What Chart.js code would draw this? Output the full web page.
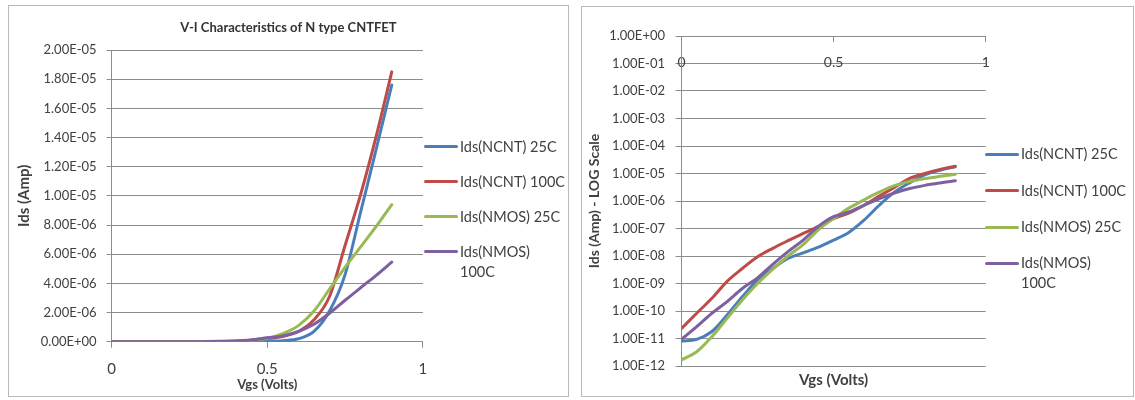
<!DOCTYPE html>
<html>
<head>
<meta charset="utf-8">
<script src="https://cdn.jsdelivr.net/npm/chart.js@4/dist/chart.umd.min.js"></script>
<style>
  html, body { margin: 0; padding: 0; background: #fff; }
  body { width: 1135px; height: 400px; position: relative; overflow: hidden; font-family: Lato, "Open Sans", sans-serif; }
  .frame { position: absolute; box-sizing: border-box; border: 1px solid #b9b9b9; background: #fff; }
  canvas { position: absolute; }
  .legend { position: absolute; color: #404040; font-size: 14.5px; line-height: 20px; }
  .legend .item { position: absolute; left: 0; display: flex; align-items: flex-start; white-space: nowrap; }
  .legend .swatch { width: 34px; height: 3px; margin-top: 8.5px; border-radius: 1.5px; }
  .legend .text { margin-left: 2px; }
</style>
</head>
<body>
<div class="frame" style="left:8px;top:5px;width:561px;height:392px"></div>
<div class="frame" style="left:581px;top:6px;width:553px;height:391px"></div>
<canvas id="linChart" width="561" height="392" style="left:8px;top:5px;width:561px;height:392px"></canvas>
<canvas id="logChart" width="553" height="391" style="left:581px;top:6px;width:553px;height:391px"></canvas>
<div id="linLegend" class="legend" style="left:424px;top:136.7px"></div>
<div id="logLegend" class="legend" style="left:985px;top:144.3px"></div>

<script>
// Gate voltage sweep (V)
const vgs = [0, 0.05, 0.1, 0.15, 0.2, 0.25, 0.3, 0.35, 0.4, 0.45, 0.5, 0.55, 0.6, 0.65, 0.7, 0.75, 0.8, 0.85, 0.9];

// Drain current (A) for each device / temperature
const idsNcnt25 = [8.1e-12, 9.3e-12, 1.8e-11, 7.1e-11, 3.3e-10, 1.35e-9, 3.5e-9, 8.1e-9, 1.3e-8, 2.1e-8, 3.8e-8, 7.2e-8, 2.0e-7, 7.0e-7, 2.1e-6, 4.6e-6, 8.9e-6, 1.32e-5, 1.76e-5];
const idsNcnt100 = [2.3e-11, 8.3e-11, 2.9e-10, 1.2e-9, 3.5e-9, 9.3e-9, 1.9e-8, 3.6e-8, 6.6e-8, 1.2e-7, 2.3e-7, 3.6e-7, 7.0e-7, 1.5e-6, 3.1e-6, 6.6e-6, 1.01e-5, 1.41e-5, 1.85e-5];
const idsNmos25 = [1.66e-12, 3.3e-12, 1.17e-11, 5.4e-11, 2.5e-10, 1.0e-9, 3.3e-9, 1.0e-8, 2.6e-8, 9.0e-8, 2.3e-7, 5.5e-7, 1.1e-6, 2.1e-6, 3.6e-6, 5.1e-6, 6.5e-6, 7.9e-6, 9.4e-6];
const idsNmos100 = [9.3e-12, 2.7e-11, 8.3e-11, 2.2e-10, 6.6e-10, 1.6e-9, 5.0e-9, 1.45e-8, 3.8e-8, 1.2e-7, 2.7e-7, 4.0e-7, 7.0e-7, 1.2e-6, 1.95e-6, 2.84e-6, 3.7e-6, 4.55e-6, 5.45e-6];

const seriesLabels = ['Ids(NCNT) 25C', 'Ids(NCNT) 100C', 'Ids(NMOS) 25C', 'Ids(NMOS) 100C'];
const seriesColors = ['#4A7EBB', '#BE4B48', '#98B954', '#7D60A0'];
const seriesValues = [idsNcnt25, idsNcnt100, idsNmos25, idsNmos100];

// Axis ticks
const vgsTicks = [0, 0.5, 1];
const linearCurrentTicks = [0, 2e-6, 4e-6, 6e-6, 8e-6, 1e-5, 1.2e-5, 1.4e-5, 1.6e-5, 1.8e-5, 2e-5];
const logCurrentTicks = [1, 1e-1, 1e-2, 1e-3, 1e-4, 1e-5, 1e-6, 1e-7, 1e-8, 1e-9, 1e-10, 1e-11, 1e-12];

const linTitle = 'V-I Characteristics of N type CNTFET';
const linYTitle = 'Ids (Amp)';
const logYTitle = 'Ids (Amp) - LOG Scale';
const xTitle = 'Vgs (Volts)';

Chart.defaults.font.family = 'Lato, "Open Sans", sans-serif';
Chart.defaults.color = '#404040';
const gridGray = '#8c8c8c';

// Spreadsheet-style scientific label, e.g. 1.80E-05
function sci(v) {
  if (v === 0) return '0.00E+00';
  let e = Math.floor(Math.log10(Math.abs(v)) + 1e-9);
  let m = v / Math.pow(10, e);
  if (Math.abs(m) >= 9.995) { m /= 10; e += 1; }
  return m.toFixed(2) + 'E' + (e < 0 ? '-' : '+') + String(Math.abs(e)).padStart(2, '0');
}

function makeDatasets() {
  return seriesValues.map((vals, i) => ({
    label: seriesLabels[i],
    data: vgs.map((v, k) => ({ x: v, y: vals[k] })),
    borderColor: seriesColors[i],
    backgroundColor: seriesColors[i],
    borderWidth: 3,
    borderCapStyle: 'round',
    borderJoinStyle: 'round',
    pointRadius: 0,
    cubicInterpolationMode: 'monotone',
    fill: false,
    order: seriesValues.length - 1 - i
  }));
}

const fixTicks = list => scale => { scale.ticks = list.map(v => ({ value: v })); };

// Empty right-hand strip that keeps room for the legend
const legendRoom = width => ({
  type: 'linear', position: 'right', min: 0, max: 1,
  afterFit: s => { s.width = width; },
  grid: { display: false }, border: { display: false }, ticks: { display: false }
});

// Linear-scale chart
const linChart = new Chart(document.getElementById('linChart'), {
  type: 'line',
  data: { datasets: makeDatasets() },
  options: {
    responsive: false,
    devicePixelRatio: 1,
    animation: false,
    layout: { padding: 0 },
    plugins: {
      legend: { display: false },
      tooltip: { enabled: false },
      title: {
        display: true,
        text: linTitle,
        color: '#333',
        font: { size: 13, weight: 'bold' },
        padding: { top: 15.2, bottom: 14.2 }
      }
    },
    scales: {
      x: {
        type: 'linear', position: 'bottom', min: 0, max: 1,
        afterBuildTicks: fixTicks(vgsTicks),
        afterFit: s => { s.height = 55.3; },
        grid: { drawOnChartArea: false, drawTicks: true, tickLength: 6, color: gridGray },
        border: { display: true, color: gridGray, width: 1 },
        ticks: { font: { size: 15 }, padding: 12.3, maxRotation: 0, callback: v => String(v) },
        title: { display: true, text: xTitle, font: { size: 13, weight: 'bold' }, padding: { top: 0, bottom: 4.2 } }
      },
      y: {
        type: 'linear', position: 'left', min: 0, max: 2e-5,
        afterBuildTicks: fixTicks(linearCurrentTicks),
        afterFit: s => { s.width = 103.6; },
        grid: { color: gridGray, tickLength: 5, drawTicks: true },
        border: { display: true, color: gridGray, width: 1 },
        ticks: { font: { size: 13 }, padding: 10, callback: v => sci(v) },
        title: { display: true, text: linYTitle, font: { size: 15, weight: 'bold' }, padding: { top: 7.5, bottom: 0 } }
      },
      legendRoom: legendRoom(146.1)
    }
  }
});

// Log-scale chart
const logChart = new Chart(document.getElementById('logChart'), {
  type: 'line',
  data: { datasets: makeDatasets() },
  options: {
    responsive: false,
    devicePixelRatio: 1,
    animation: false,
    layout: { padding: { left: 0, right: 0, top: 30, bottom: 0 } },
    plugins: { legend: { display: false }, tooltip: { enabled: false } },
    scales: {
      x: {
        type: 'linear', position: { y: 1 }, min: 0, max: 1,
        afterBuildTicks: fixTicks(vgsTicks),
        afterFit: s => { s.height = 0; },
        grid: { drawOnChartArea: false, drawTicks: true, tickLength: 5, color: gridGray },
        border: { display: true, color: gridGray, width: 1 },
        ticks: { font: { size: 14 }, padding: 12.6, maxRotation: 0, callback: v => String(v) }
      },
      xTitle: {
        type: 'linear', position: 'bottom', min: 0, max: 1,
        afterFit: s => { s.height = 31; },
        grid: { display: false },
        border: { display: false },
        ticks: { display: false },
        title: { display: true, text: xTitle, font: { size: 15, weight: 'bold' }, padding: { top: 0, bottom: 8 } }
      },
      y: {
        type: 'logarithmic', position: 'left', min: 1e-12, max: 1,
        afterBuildTicks: fixTicks(logCurrentTicks),
        afterFit: s => { s.width = 100.5; },
        grid: { color: gridGray, tickLength: 6, drawTicks: true },
        border: { display: true, color: gridGray, width: 1 },
        ticks: { font: { size: 13 }, padding: 10.5, callback: v => sci(v) },
        title: { display: true, text: logYTitle, font: { size: 14, weight: 'bold' }, padding: { top: 5.2, bottom: 0 } }
      },
      legendRoom: legendRoom(148.3)
    }
  }
});

// HTML legend built from each chart's datasets
function buildLegend(el, chart, step, maxText) {
  const meas = document.createElement('canvas').getContext('2d');
  meas.font = '14.5px Lato, "Open Sans", sans-serif';
  chart.data.datasets.forEach((ds, i) => {
    const item = document.createElement('div');
    item.className = 'item';
    item.style.top = (i * step) + 'px';
    const sw = document.createElement('span');
    sw.className = 'swatch';
    sw.style.background = ds.borderColor;
    const tx = document.createElement('span');
    tx.className = 'text';
    let lines = [ds.label];
    if (meas.measureText(ds.label).width > maxText) {
      const k = ds.label.lastIndexOf(' ');
      lines = [ds.label.slice(0, k), ds.label.slice(k + 1)];
    }
    lines.forEach((ln, j) => {
      if (j) tx.appendChild(document.createElement('br'));
      tx.appendChild(document.createTextNode(ln));
    });
    item.appendChild(sw);
    item.appendChild(tx);
    el.appendChild(item);
  });
}
buildLegend(document.getElementById('linLegend'), linChart, 35, 106);
buildLegend(document.getElementById('logLegend'), logChart, 36.4, 106);
</script>
</body>
</html>
